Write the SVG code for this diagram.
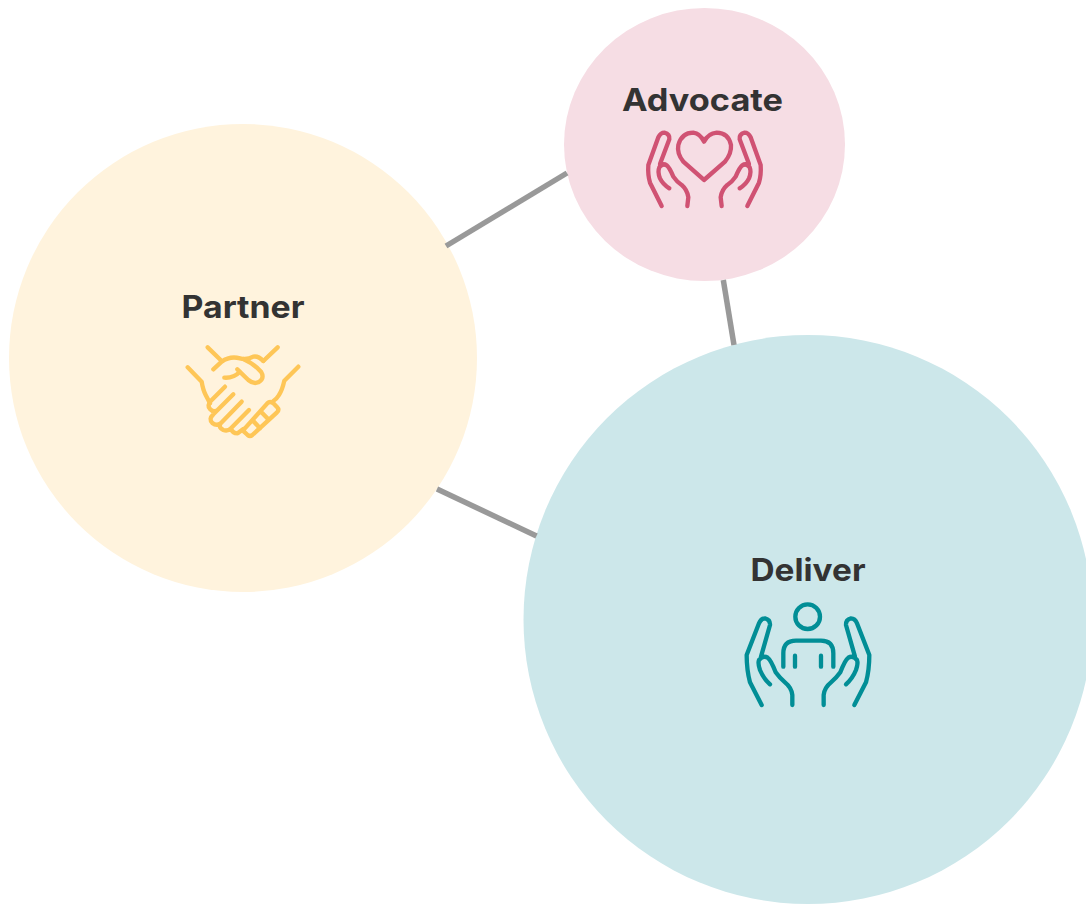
<svg xmlns="http://www.w3.org/2000/svg" width="1086" height="904" viewBox="0 0 1086 904">
<style>
.lbl{font-family:"Inter","Liberation Sans",sans-serif;font-weight:700;font-size:31px;fill:#333;text-anchor:middle}
.ic{fill:none;stroke-width:13;stroke-linecap:round;stroke-linejoin:round}
.conn{stroke:#999;stroke-width:5.500;fill:none}
</style>
<defs>
<g id="hand-a"><path d="M95 258L60 188Q53 165 55 135L85 52Q92 38 103 38Q120 42 118 58L90 132M118 205Q98 192 90 175Q82 155 88 142Q98 128 110 136Q118 142 130 170Q140 185 155 195Q172 210 175 232L172 258"/></g>
<g id="hand-d"><path d="M80 330L45 262Q35 225 35 180L72 85Q78 70 90 70Q106 74 105 90L78 185M105 268Q85 250 75 225Q68 205 72 195Q85 180 98 188Q108 195 122 232Q135 250 150 262Q170 278 172 300L172 330"/></g>
</defs>
<rect width="1086" height="904" fill="#fff"/>
<g id="partner">
<circle cx="243" cy="358" r="234" fill="#fff3dd"/>
<text class="lbl" x="243" y="318" textLength="123" lengthAdjust="spacingAndGlyphs">Partner</text>
<g class="ic" stroke="#fec657" transform="translate(175 335) scale(.3333)">
<path d="M98 37L140 78M308 37L265 78M38 97L80 140Q84 165 92 180Q100 195 105 205M370 95L328 137Q322 165 312 180Q305 192 295 198"/>
<path d="M115 103L140 80Q165 62 195 70Q215 76 235 65Q250 62 265 78"/>
<path d="M205 72Q235 85 258 110Q270 130 250 142Q235 148 220 135L187 103M148 128Q175 130 195 110"/>
<path d="M150 155L108 197Q95 212 105 222Q112 230 120 228M175 178L115 238Q100 252 112 264Q124 274 136 266L200 200M136 266Q130 278 145 285Q158 290 168 280L222 225M168 280Q172 295 188 295L205 282"/>
<path d="M207 283L277 205Q285 197 295 205L306 216Q314 224 306 232L232 300Q225 306 218 300L207 290Q203 286 207 283ZM232 255L255 280M258 230L280 253"/>
</g>
</g>
<g id="advocate">
<ellipse cx="704.500" cy="144.500" rx="140.500" ry="136.500" fill="#f6dde4"/>
<text class="lbl" x="702.500" y="111" textLength="161" lengthAdjust="spacingAndGlyphs">Advocate</text>
<g class="ic" stroke="#d05273" transform="translate(630 120) scale(.3333)">
<path d="M222 180L160 125Q140 100 145 75Q155 38 190 38Q210 40 222 65Q235 40 260 38Q295 38 303 75Q305 100 285 125Z"/>
<use href="#hand-a"/>
<use href="#hand-a" transform="translate(447 0) scale(-1 1)"/>
</g>
</g>
<g id="deliver">
<circle cx="808" cy="619.500" r="284.500" fill="#cce7ea"/>
<text class="lbl" x="808" y="581" textLength="115" lengthAdjust="spacingAndGlyphs">Deliver</text>
<g class="ic" stroke="#018e96" transform="translate(735 595) scale(.3333)">
<circle cx="218" cy="65" r="37"/>
<path d="M145 215V175Q145 137 183 137H258Q295 137 295 175V215M180 182V215M258 182V215"/>
<use href="#hand-d"/>
<use href="#hand-d" transform="translate(438 0) scale(-1 1)"/>
</g>
</g>
<g id="connectors">
<line class="conn" x1="446" y1="246" x2="567" y2="173"/>
<line class="conn" x1="723.300" y1="280" x2="734" y2="345"/>
<line class="conn" x1="437" y1="489" x2="536.500" y2="536"/>
</g>
</svg>
